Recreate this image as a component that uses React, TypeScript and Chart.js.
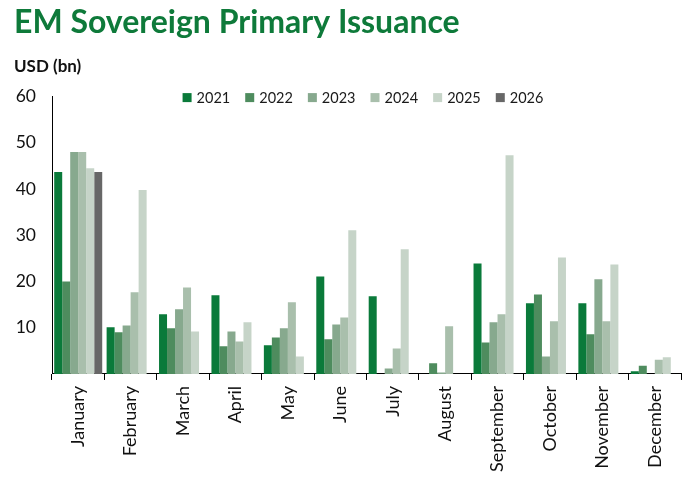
import { useRef, useEffect } from 'react';
import Chart from 'chart.js/auto';

const months = [
  'January', 'February', 'March', 'April', 'May', 'June',
  'July', 'August', 'September', 'October', 'November', 'December',
];

// USD bn per month
const issuance2021 = [43.7, 10.1, 12.9, 17.0, 6.2, 21.1, 16.8, null, 23.9, 15.3, 15.3, 0.6];
const issuance2022 = [20.0, 9.0, 9.9, 6.0, 7.9, 7.5, null, 2.3, 6.8, 17.2, 8.6, 1.8];
const issuance2023 = [48.0, 10.5, 14.0, 9.2, 9.9, 10.7, 1.2, 0.3, 11.2, 3.8, 20.5, null];
const issuance2024 = [48.0, 17.7, 18.7, 7.0, 15.5, 12.2, 5.5, 10.3, 12.9, 11.4, 11.4, 3.1];
const issuance2025 = [44.5, 39.8, 9.2, 11.2, 3.8, 31.1, 27.0, null, 47.3, 25.2, 23.7, 3.6];
const issuance2026 = [43.7, null, null, null, null, null, null, null, null, null, null, null];

const seriesNames = ['2021', '2022', '2023', '2024', '2025', '2026'];
const seriesColors = ['#0a7a3a', '#4e8c5e', '#87a98e', '#a9bfac', '#c6d4c8', '#676767'];

const yTicks = [0, 10, 20, 30, 40, 50, 60];

const FONT = 'Lato, "Open Sans", sans-serif';

// legend drawn over the top of the plot area, like the original
const insideLegend = {
  id: 'insideLegend',
  afterDraw(chart: Chart) {
    const { ctx, chartArea } = chart;
    ctx.save();
    ctx.font = `14.5px ${FONT}`;
    const box = 9;
    const gap = 5;
    const space = 15;
    const items = chart.data.datasets.map((ds) => ({
      label: ds.label as string,
      color: ds.backgroundColor as string,
      w: box + gap + ctx.measureText(ds.label as string).width,
    }));
    const total = items.reduce((s, it) => s + it.w, 0) + space * (items.length - 1);
    let x = (chartArea.left + chartArea.right) / 2 - total / 2 - 3.5;
    const y = chartArea.top + 1;
    ctx.textBaseline = 'middle';
    ctx.textAlign = 'left';
    items.forEach((it) => {
      ctx.fillStyle = it.color;
      ctx.fillRect(x, y - box / 2, box, box);
      ctx.fillStyle = '#1a1a1a';
      ctx.fillText(it.label, x + box + gap, y + 1);
      x += it.w + space;
    });
    ctx.restore();
  },
};

const App = () => {
  const chartRef = useRef<HTMLCanvasElement | null>(null);
  const chartInstance = useRef<Chart | null>(null);

  useEffect(() => {
    if (!chartRef.current) return;

    if (chartInstance.current) {
      chartInstance.current.destroy();
    }

    const allSeries = [issuance2021, issuance2022, issuance2023, issuance2024, issuance2025, issuance2026];

    chartInstance.current = new Chart(chartRef.current, {
      type: 'bar',
      data: {
        labels: months,
        datasets: allSeries.map((values, i) => ({
          label: seriesNames[i],
          data: values,
          backgroundColor: seriesColors[i],
          borderWidth: 0,
          barPercentage: 1,
          categoryPercentage: 0.916,
        })),
      },
      plugins: [insideLegend],
      options: {
        responsive: true,
        maintainAspectRatio: false,
        animation: false,
        layout: {
          padding: { left: 14, right: 15, top: 0, bottom: 4 },
        },
        plugins: {
          legend: { display: false },
          tooltip: { enabled: false },
          title: {
            display: true,
            text: 'EM Sovereign Primary Issuance',
            align: 'start',
            color: '#0e7a3a',
            font: { family: FONT, size: 32, weight: 'bold', lineHeight: 1.2 },
            padding: { top: 3, bottom: 6 },
          },
          subtitle: {
            display: true,
            text: 'USD (bn)',
            align: 'start',
            color: '#111',
            font: { family: FONT, size: 17, weight: 'bold', lineHeight: 1.2 },
            padding: { top: 9.4, bottom: 19.4 },
          },
        },
        scales: {
          x: {
            grid: {
              display: true,
              drawOnChartArea: false,
              drawTicks: true,
              tickLength: 6,
              offset: true,
              color: '#000',
            },
            border: { display: true, color: '#000', width: 1 },
            ticks: {
              color: '#111',
              font: { family: FONT, size: 18 },
              minRotation: 90,
              maxRotation: 90,
              padding: 6,
              autoSkip: false,
            },
          },
          y: {
            min: yTicks[0],
            max: yTicks[yTicks.length - 1],
            afterFit: (scale) => {
              scale.width = 38;
            },
            grid: { display: false, drawTicks: false },
            border: { display: true, color: '#000', width: 1 },
            ticks: {
              stepSize: 10,
              color: '#111',
              font: { family: FONT, size: 17.5 },
              padding: 16,
              callback: (value) => (value === 0 ? '' : String(value)),
            },
          },
        },
      },
    });

    return () => {
      if (chartInstance.current) {
        chartInstance.current.destroy();
        chartInstance.current = null;
      }
    };
  }, []);

  return (
    <div style={{ position: 'absolute', left: 0, top: 0, width: 696, height: 482, background: '#fff' }}>
      <canvas ref={chartRef}></canvas>
    </div>
  );
};

export default App;
